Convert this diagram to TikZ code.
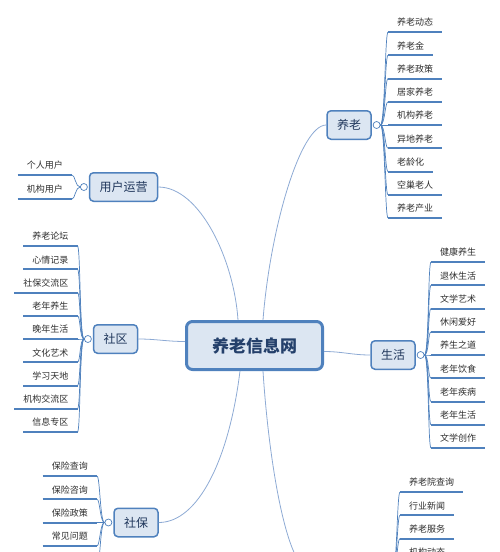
\documentclass[tikz,border=0pt]{standalone}
\usepackage{fontspec}
\newfontfamily\cjk{Noto Sans CJK SC}
\usetikzlibrary{positioning}
\definecolor{mapblue}{RGB}{79,129,189}
\definecolor{mapfill}{RGB}{220,230,242}
\definecolor{maplink}{RGB}{141,170,212}
\definecolor{maptext}{RGB}{36,64,107}
\definecolor{leaftext}{RGB}{45,45,45}

\begin{document}
\begin{tikzpicture}[
    x=1pt, y=-1pt,
    rootbox/.style={rectangle, draw=mapblue, fill=mapfill, line width=3pt, rounded corners=6pt, minimum width=136pt, minimum height=48pt, font=\cjk\fontsize{17}{17}\selectfont\bfseries, text=maptext},
    topicbox/.style={rectangle, draw=mapblue, fill=mapfill, line width=1.5pt, rounded corners=4pt, inner xsep=10pt, minimum height=28.5pt, font=\cjk\fontsize{12}{12}\selectfont, text=maptext!85!black},
    foldcirc/.style={circle, draw=mapblue, fill=white, line width=0.7pt, minimum size=7pt, inner sep=0pt},
    leafnode/.style={inner xsep=9pt, inner ysep=5pt, text height=7.5pt, text depth=1pt, font=\cjk\fontsize{9}{9}\selectfont, text=leaftext},
    leafline/.style={draw=mapblue, line width=2pt},
    branchcurve/.style={draw=mapblue, line width=0.7pt},
    mainlink/.style={draw=maplink, line width=0.8pt}
]
\useasboundingbox (0,0) rectangle (500,552);
\clip (0,0) rectangle (500,552);

% === Central topic ===
\node[rootbox] (root) at (254.5,345.5) {养老信息网};

% === Main topics ===
\node[topicbox] (yanglao) at (349,125) {养老};
\node[foldcirc, right=1pt of yanglao] (ylc) {};
\node[topicbox] (yonghu) at (123.5,187) {用户运营};
\node[foldcirc, left=1pt of yonghu] (yhc) {};
\node[topicbox] (shequ) at (115.5,339) {社区};
\node[foldcirc, left=1pt of shequ] (sqc) {};
\node[topicbox] (shenghuo) at (393,355) {生活};
\node[foldcirc, right=1pt of shenghuo] (shc) {};
\node[topicbox] (shebao) at (136,522.5) {社保};
\node[foldcirc, left=1pt of shebao] (sbc) {};
% topic below the visible area
\coordinate (jgbox) at (313,573);
\coordinate (jgc) at (392.5,573);

% === Central links ===
\draw[mainlink] ([xshift=8.5pt]root.north) .. controls (270,230) and (300,125) .. (yanglao.west);
\draw[mainlink] ([xshift=-16.5pt]root.north) .. controls (234,260) and (200,187) .. (yonghu.east);
\draw[mainlink] ([yshift=4pt]root.west) to[out=180, in=0] (shequ.east);
\draw[mainlink] ([yshift=-6pt]root.east) to[out=0, in=180] (shenghuo.west);
\draw[mainlink] ([xshift=-14.5pt]root.south) .. controls (229,460) and (198,522.5) .. (shebao.east);
\draw[mainlink] ([xshift=8.5pt]root.south) .. controls (268,450) and (285,573) .. (jgbox);

% === 养老 ===
\foreach \lbl [count=\i, evaluate=\i as \ly using 32+23.25*(\i-1)] in {养老动态,养老金,养老政策,居家养老,机构养老,异地养老,老龄化,空巢老人,养老产业}{
    \node[leafnode, anchor=south west] (yl\i) at (388,\ly) {\lbl};
    \draw[leafline] (yl\i.south west) -- (yl\i.south east);
    \draw[branchcurve] (ylc.east) .. controls +(4.5,0) and +(-3,0) .. (yl\i.south west);
}

% === 用户运营 ===
\foreach \lbl [count=\i, evaluate=\i as \ly using 175+24*(\i-1)] in {个人用户,机构用户}{
    \node[leafnode, anchor=south east] (yh\i) at (72,\ly) {\lbl};
    \draw[leafline] (yh\i.south west) -- (yh\i.south east);
    \draw[branchcurve] (yhc.west) .. controls +(-4.5,0) and +(3,0) .. (yh\i.south east);
}

% === 社区 ===
\foreach \lbl [count=\i, evaluate=\i as \ly using 246+23.25*(\i-1)] in {养老论坛,心情记录,社保交流区,老年养生,晚年生活,文化艺术,学习天地,机构交流区,信息专区}{
    \node[leafnode, anchor=south east] (sq\i) at (77.5,\ly) {\lbl};
    \draw[leafline] (sq\i.south west) -- (sq\i.south east);
    \draw[branchcurve] (sqc.west) .. controls +(-4.5,0) and +(3,0) .. (sq\i.south east);
}

% === 生活 ===
\foreach \lbl [count=\i, evaluate=\i as \ly using 262+23.25*(\i-1)] in {健康养生,退休生活,文学艺术,休闲爱好,养生之道,老年饮食,老年疾病,老年生活,文学创作}{
    \node[leafnode, anchor=south west] (sh\i) at (431,\ly) {\lbl};
    \draw[leafline] (sh\i.south west) -- (sh\i.south east);
    \draw[branchcurve] (shc.east) .. controls +(4.5,0) and +(-3,0) .. (sh\i.south west);
}

% === 社保 ===
\foreach \lbl [count=\i, evaluate=\i as \ly using 476+23.25*(\i-1)] in {保险查询,保险咨询,保险政策,常见问题}{
    \node[leafnode, anchor=south east] (sb\i) at (97,\ly) {\lbl};
    \draw[leafline] (sb\i.south west) -- (sb\i.south east);
    \draw[branchcurve] (sbc.west) .. controls +(-4.5,0) and +(3,0) .. (sb\i.south east);
}
\coordinate (sb5) at (97,569);
\draw[branchcurve] (sbc.west) .. controls +(-4.5,0) and +(3,0) .. (sb5);

% === 机构 (bottom right) ===
\foreach \lbl [count=\i, evaluate=\i as \ly using 492+23.25*(\i-1)] in {养老院查询,行业新闻,养老服务,机构动态}{
    \node[leafnode, anchor=south west] (jg\i) at (400,\ly) {\lbl};
    \draw[leafline] (jg\i.south west) -- (jg\i.south east);
    \draw[branchcurve] (jgc) .. controls +(4.5,0) and +(-3,0) .. (jg\i.south west);
}

\end{tikzpicture}
\end{document}
